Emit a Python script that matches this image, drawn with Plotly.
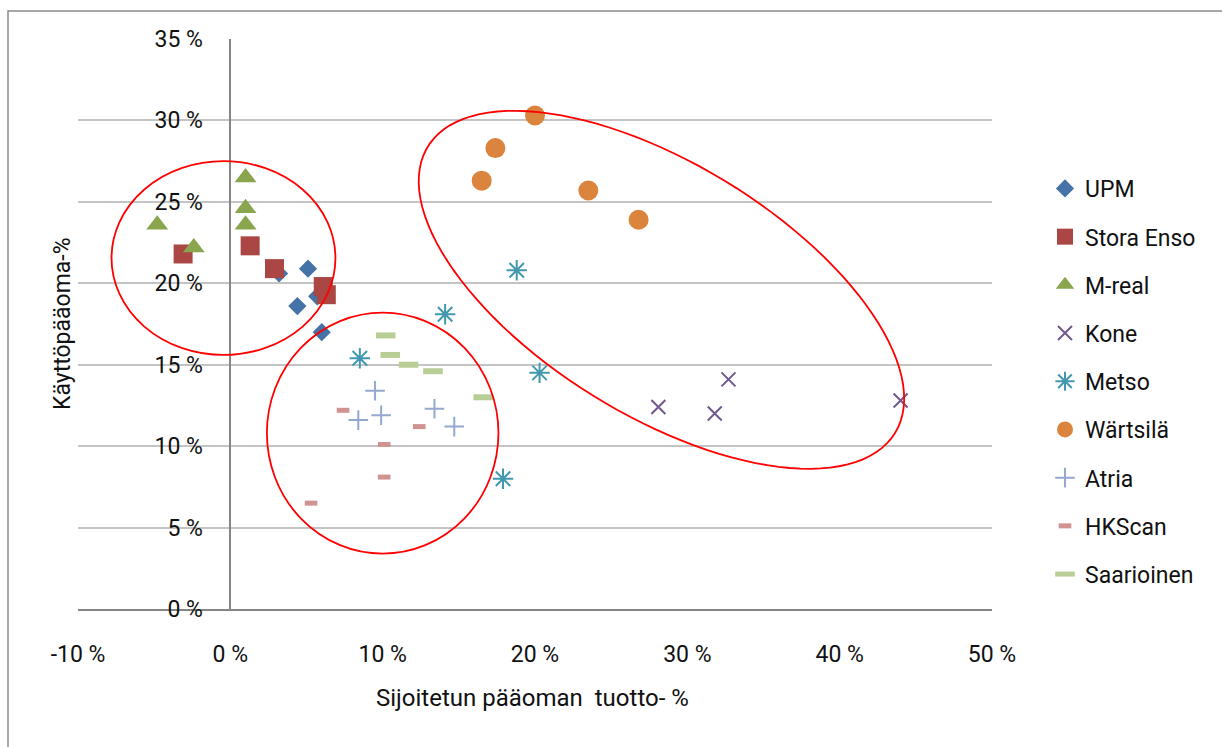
import numpy as np
import plotly.graph_objects as go

# ---------------- data (percent) ----------------
upm_x = [3.2, 5.1, 4.4, 5.7, 6.0]
upm_y = [20.6, 20.9, 18.6, 19.2, 17.0]

stora_x = [-3.1, 1.3, 2.9, 6.1, 6.3]
stora_y = [21.8, 22.3, 20.9, 19.8, 19.3]

mreal_x = [1.0, 1.0, 1.0, -4.8, -2.4]
mreal_y = [26.5, 24.6, 23.6, 23.6, 22.2]

kone_x = [28.1, 31.8, 32.7, 44.0]
kone_y = [12.4, 12.0, 14.1, 12.8]

metso_x = [8.5, 14.1, 20.3, 17.9, 18.8]
metso_y = [15.4, 18.1, 14.5, 8.0, 20.8]

wartsila_x = [20.0, 17.4, 16.5, 23.5, 26.8]
wartsila_y = [30.3, 28.3, 26.3, 25.7, 23.9]

atria_x = [9.5, 8.4, 9.9, 13.4, 14.7]
atria_y = [13.4, 11.6, 11.9, 12.3, 11.2]

hkscan_x = [7.4, 12.4, 10.1, 10.1, 5.3]
hkscan_y = [12.2, 11.2, 10.1, 8.1, 6.5]

saarioinen_x = [10.2, 10.5, 11.7, 13.3, 16.6]
saarioinen_y = [16.8, 15.6, 15.0, 14.6, 13.0]

x_ticks = [-10, 0, 10, 20, 30, 40, 50]
x_labels = ["-10 %", "0 %", "10 %", "20 %", "30 %", "40 %", "50 %"]
y_ticks = [0, 5, 10, 15, 20, 25, 30, 35]
y_labels = ["0 %", "5 %", "10 %", "15 %", "20 %", "25 %", "30 %", "35 %"]

FONT = "Roboto, Open Sans, sans-serif"

series = [
    ("UPM", upm_x, upm_y, dict(symbol="diamond", size=14, color="#4572A7", line=dict(width=0))),
    ("Stora Enso", stora_x, stora_y, dict(symbol="square", size=19, color="#AA4643", line=dict(width=0))),
    ("M-real", mreal_x, mreal_y, dict(symbol="triangle-up", size=19, color="#89A54E", line=dict(width=0))),
    ("Kone", kone_x, kone_y, dict(symbol="x-thin-open", size=14, color="#71588F", line=dict(width=2, color="#71588F"))),
    ("Metso", metso_x, metso_y, dict(symbol="asterisk-open", size=17, color="#4198AF", line=dict(width=2, color="#4198AF"))),
    ("Wärtsilä", wartsila_x, wartsila_y, dict(symbol="circle", size=20, color="#DB843D", line=dict(width=0))),
    ("Atria", atria_x, atria_y, dict(symbol="cross-thin-open", size=14, color="#93A9CF", line=dict(width=2, color="#93A9CF"))),
    ("HKScan", hkscan_x, hkscan_y, dict(symbol="line-ew-open", size=9, color="#D19392", line=dict(width=5, color="#D19392"))),
    ("Saarioinen", saarioinen_x, saarioinen_y, dict(symbol="line-ew-open", size=14, color="#B9CD96", line=dict(width=6, color="#B9CD96"))),
]

fig = go.Figure()
for i, (name, xs, ys, mk) in enumerate(series):
    fig.add_trace(go.Scatter(x=xs, y=ys, mode="markers", name=name, marker=mk,
                             legendgroup=f"g{i}"))

# layout geometry
W, H = 1222, 747
ml, mr, mt, mb = 78, 230, 39, 138
xr = [-10, 50]
yr = [0, 35]
kx = (W - ml - mr) / (xr[1] - xr[0])   # px per unit
ky = (H - mt - mb) / (yr[1] - yr[0])

# rotated ellipse (centre in data units, semi-axes in screen px)
def rot_ellipse(cx, cy, a, b, ang_deg, n=120):
    t = np.linspace(0, 2 * np.pi, n)
    th = np.radians(ang_deg)
    dx = a * np.cos(t) * np.cos(th) - b * np.sin(t) * np.sin(th)
    dy = a * np.cos(t) * np.sin(th) + b * np.sin(t) * np.cos(th)  # screen, y down
    xs = cx + dx / kx
    ys = cy - dy / ky
    return "M " + " L ".join(f"{x:.4f},{y:.4f}" for x, y in zip(xs, ys)) + " Z"

shapes = [
    dict(type="circle", xref="x", yref="y", x0=-7.8, x1=6.9, y0=15.6, y1=27.5,
         line=dict(color="#FF0000", width=1.8)),
    dict(type="circle", xref="x", yref="y", x0=2.4, x1=17.6, y0=3.4, y1=18.2,
         line=dict(color="#FF0000", width=1.8)),
    dict(type="path", xref="x", yref="y", path=rot_ellipse(28.3, 19.6, 274, 126, 31.5),
         line=dict(color="#FF0000", width=1.8)),
    # outer chart border (left & top visible)
    dict(type="rect", xref="paper", yref="paper",
         x0=(8 - ml) / (W - ml - mr), x1=1.6,
         y0=-0.6, y1=(H - mb - 11) / (H - mt - mb),
         line=dict(color="#8a8a8a", width=1.5), layer="below"),
]

fig.update_layout(
    width=W, height=H,
    margin=dict(l=ml, r=mr, t=mt, b=mb),
    paper_bgcolor="white", plot_bgcolor="white",
    font=dict(family=FONT, size=23, color="#111111"),
    showlegend=True,
    legend=dict(x=(1045 - ml) / (W - ml - mr), xanchor="left",
                y=(H - mb - 167) / (H - mt - mb), yanchor="top",
                font=dict(size=23, color="#111111"), tracegroupgap=15.3, itemwidth=30,
                bgcolor="rgba(0,0,0,0)"),
    xaxis=dict(range=xr, tickmode="array", tickvals=x_ticks, ticktext=x_labels,
               showgrid=False, zeroline=False, showline=True, linecolor="#868686",
               linewidth=2, ticks="", ticklabelstandoff=23, tickfont=dict(size=23)),
    yaxis=dict(range=yr, tickmode="array", tickvals=y_ticks, ticktext=y_labels,
               showgrid=True, gridcolor="#c4c4c4", gridwidth=1.5, zeroline=False,
               showline=True, linecolor="#868686", linewidth=1.5,
               anchor="free", position=(0 - xr[0]) / (xr[1] - xr[0]),
               ticks="", ticklabelstandoff=22, tickfont=dict(size=23)),
    shapes=shapes,
    annotations=[
        dict(text="Sijoitetun pääoman  tuotto- %", xref="paper", yref="paper",
             x=(532 - ml) / (W - ml - mr), y=(H - mb - 698) / (H - mt - mb),
             xanchor="center", yanchor="middle", showarrow=False,
             font=dict(size=24)),
        dict(text="Käyttöpääoma-%", xref="paper", yref="paper",
             x=(62 - ml) / (W - ml - mr), y=0.5, textangle=-90,
             xanchor="center", yanchor="middle", showarrow=False,
             font=dict(size=23)),
    ],
)

fig.write_html("out.html")
